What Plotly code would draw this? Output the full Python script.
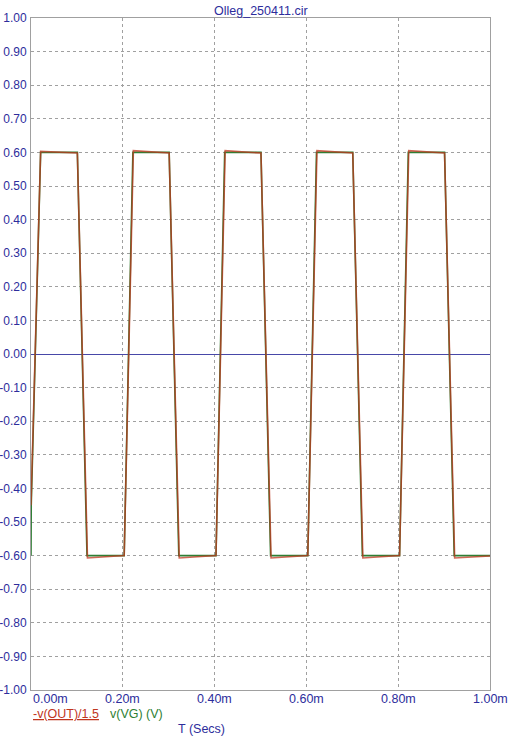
import plotly.graph_objects as go

# ---- data (time in ms) ----
t_out = [0.000, 0.021, 0.101, 0.123, 0.203, 0.223, 0.301, 0.323, 0.403, 0.423,
         0.501, 0.523, 0.603, 0.623, 0.701, 0.723, 0.803, 0.823, 0.901, 0.923, 1.000]
v_out = [-0.45, 0.603, 0.598, -0.607, -0.600, 0.605, 0.598, -0.607, -0.600, 0.605,
         0.598, -0.607, -0.600, 0.605, 0.598, -0.607, -0.600, 0.605, 0.598, -0.607, -0.601]

t_vg = [0.000, 0.0005, 0.021, 0.101, 0.122, 0.203, 0.222, 0.301, 0.322, 0.403, 0.422,
        0.501, 0.522, 0.603, 0.622, 0.701, 0.722, 0.803, 0.822, 0.901, 0.922, 1.000]
v_vg = [-0.60, -0.45, 0.600, 0.600, -0.600, -0.600, 0.600, 0.600, -0.600, -0.600, 0.600,
        0.600, -0.600, -0.600, 0.600, 0.600, -0.600, -0.600, 0.600, 0.600, -0.600, -0.600]

x_ticks = [0.0, 0.2, 0.4, 0.6, 0.8, 1.0]
x_tick_labels = ["0.00m", "0.20m", "0.40m", "0.60m", "0.80m", "1.00m"]
y_ticks = [round(-1 + 0.1 * i, 2) for i in range(21)]
y_tick_labels = [f"{v:.2f}" for v in y_ticks]

title_text = "Olleg_250411.cir"
label_out = "-v(OUT)/1.5"
label_vg = "v(VG) (V)"
x_title = "T (Secs)"

BLUE = "#2d2d9c"
RED = "#c0361e"
GREEN = "#2f7f34"
GRID = "#a0a0a0"
FONT = "Liberation Sans, Arial, sans-serif"

fig = go.Figure()
fig.add_trace(go.Scatter(x=t_vg, y=v_vg, mode="lines",
                         line=dict(color=GREEN, width=1.6), showlegend=False))
fig.add_trace(go.Scatter(x=t_out, y=v_out, mode="lines",
                         line=dict(color=RED, width=1.6), opacity=0.75, showlegend=False))

fig.update_layout(
    width=530, height=750,
    margin=dict(l=31, r=40, t=18, b=60),
    paper_bgcolor="white", plot_bgcolor="white",
    font=dict(family=FONT, size=12.5, color=BLUE),
    showlegend=False,
)
fig.update_xaxes(
    range=[0, 1.0], tickvals=x_ticks, showticklabels=False, automargin=False,
    showgrid=True, gridcolor=GRID, griddash="3px,3px", gridwidth=1,
    showline=True, linecolor=GRID, linewidth=1, mirror=True,
    zeroline=False, ticks="",
)
fig.update_yaxes(
    range=[-1, 1], tickvals=y_ticks, ticktext=y_tick_labels, automargin=False,
    showgrid=True, gridcolor=GRID, griddash="3px,3px", gridwidth=1,
    showline=True, linecolor=GRID, linewidth=1, mirror=True,
    zeroline=True, zerolinecolor="#4848a8", zerolinewidth=1,
    ticks="", ticklabelstandoff=1,
    tickfont=dict(family=FONT, size=12, color=BLUE),
)

anns = []
for i, (xv, lab) in enumerate(zip(x_ticks, x_tick_labels)):
    anns.append(dict(x=xv, y=0, xref="x", yref="paper", text=lab, showarrow=False,
                     xanchor="left" if i == 0 else "center", yanchor="top",
                     font=dict(family=FONT, size=12.5, color=BLUE)))
anns.append(dict(x=0.5, y=1, xref="paper", yref="paper", text=title_text, showarrow=False,
                 xanchor="center", yanchor="bottom", yshift=-2,
                 font=dict(family=FONT, size=12.5, color=BLUE)))
anns.append(dict(x=0, y=0, xref="paper", yref="paper", text="<u>" + label_out + "</u>",
                 showarrow=False, xanchor="left", yanchor="middle", yshift=-24,
                 font=dict(family=FONT, size=12.5, color=RED)))
anns.append(dict(x=0.168, y=0, xref="paper", yref="paper", text=label_vg,
                 showarrow=False, xanchor="left", yanchor="middle", yshift=-24,
                 font=dict(family=FONT, size=12.5, color=GREEN)))
anns.append(dict(x=0.372, y=0, xref="paper", yref="paper", text=x_title,
                 showarrow=False, xanchor="center", yanchor="middle", yshift=-39,
                 font=dict(family=FONT, size=12.5, color=BLUE)))
fig.update_layout(annotations=anns)

fig.write_html("out.html", config={"displayModeBar": False},
               post_script="document.body.style.margin='0';")
